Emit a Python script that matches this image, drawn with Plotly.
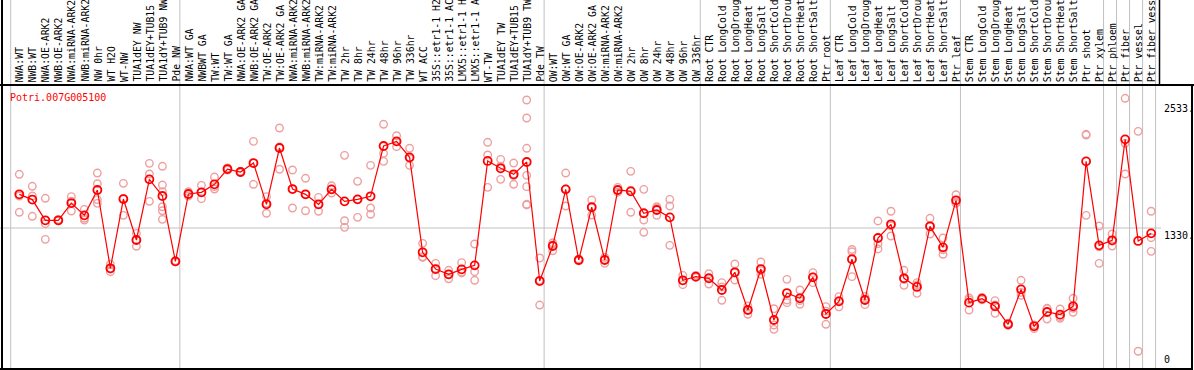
import plotly.graph_objects as go

W, H = 1194, 370

title_text = "Potri.007G005100"

labels = [
    "NWA:WT", "NWB:WT", "NWA:OE-ARK2", "NWB:OE-ARK2", "NWA:miRNA-ARK2", "NWB:miRNA-ARK2",
    "NW 0hr", "WT H2O", "WT-NW", "TUA1dEY NW", "TUA1dEY+TUB15", "TUA1dY+TUB9 NW", "Pde NW",
    "NWA:WT GA", "NWBWT GA", "TW:WT", "TW:WT GA", "NWA:OE-ARK2 GA", "NWB:OE-ARK2 GA",
    "TW:OE-ARK2", "TW:OE-ARK2 GA", "NWA:miRNA-ARK2", "NWB:miRNA-ARK2", "TW:miRNA-ARK2",
    "TW:miRNA-ARK2", "TW 2hr", "TW 8hr", "TW 24hr", "TW 48hr", "TW 96hr", "TW 336hr",
    "WT ACC", "35S::etr1-1 H2", "35S::etr1-1 AC", "LMX5::etr1-1 H", "LMX5::etr1-1 A",
    "WT-TW", "TUA1dEY TW", "TUA1dEY+TUB15", "TUA1dY+TUB9 TW", "Pde TW",
    "OW:WT", "OW:WT GA", "OW:OE-ARK2", "OW:OE-ARK2 GA", "OW:miRNA-ARK2", "OW:miRNA-ARK2",
    "OW 2hr", "OW 8hr", "OW 24hr", "OW 48hr", "OW 96hr", "OW 336hr",
    "Root CTR", "Root LongCold", "Root LongDroug", "Root LongHeat", "Root LongSalt",
    "Root ShortCold", "Root ShortDrou", "Root ShortHeat", "Root ShortSalt", "Ptr root",
    "Leaf CTR", "Leaf LongCold", "Leaf LongDroug", "Leaf LongHeat", "Leaf LongSalt",
    "Leaf ShortCold", "Leaf ShortDrou", "Leaf ShortHeat", "Leaf ShortSalt", "Ptr leaf",
    "Stem CTR", "Stem LongCold", "Stem LongDroug", "Stem LongHeat", "Stem LongSalt",
    "Stem ShortCold", "Stem ShortDrou", "Stem ShortHeat", "Stem ShortSalt", "Ptr shoot",
    "Ptr xylem", "Ptr phloem", "Ptr fiber", "Ptr vessel", "Ptr fiber vess",
]

means = [
    1650, 1600, 1403, 1403, 1567, 1450, 1691, 947, 1605, 1216, 1792, 1634, 1013,
    1653, 1669, 1745, 1890, 1862, 1947, 1555, 2090, 1700, 1650, 1555, 1697, 1583, 1602,
    1631, 2109, 2153, 2001, 1099, 940, 890, 937, 975, 1967, 1897, 1840, 1957, 826,
    1159, 1697, 1026, 1527, 1026, 1691, 1678, 1470, 1501, 1431, 833, 868,
    852, 741, 909, 551, 940, 456, 712, 662, 861, 513,
    633, 1033, 646, 1235, 1365, 852, 770, 1346, 1146, 1593,
    621, 659, 586, 415, 747, 396, 532, 507, 586, 1963, 1165,
    1213, 2172, 1207, 1279,
]

replicates = [
    [1840, 1634, 1479], [1726, 1634, 1441], [1612, 1371, 1222], [1410, 1400, 1398],
    [1628, 1585, 1491], [1507, 1422, 1406], [1852, 1751, 1600, 1564], [985, 940, 915],
    [1754, 1610, 1450], [1279, 1216, 1156], [1944, 1843, 1583],
    [1916, 1738, 1675, 1532, 1494, 1412], [1020, 1010, 1008],
    [1675, 1653, 1634], [1735, 1669, 1609], [1814, 1723, 1700], [1900, 1890, 1880],
    [1868, 1862, 1856], [2153, 1947, 1745], [1628, 1565, 1470], [2280, 2100, 1888],
    [1881, 1700, 1520], [1802, 1650, 1494], [1621, 1555, 1489], [1732, 1697, 1662],
    [2020, 1399, 1336], [1773, 1602, 1431], [1925, 1520, 1460], [2315, 2039, 1963],
    [2207, 2150, 2103], [2087, 1990, 1925], [1184, 1057, 1050], [994, 940, 877],
    [928, 890, 848], [1001, 910, 903], [1178, 915, 833], [2144, 2024, 1716],
    [1982, 1917, 1792], [1947, 1828, 1745], [2546, 2375, 2087, 1830, 1723, 1555, 1549],
    [1045, 835, 598],
    [1190, 1170, 1114], [1852, 1700, 1539], [1035, 1026, 1018], [1596, 1530, 1453],
    [1050, 1030, 994], [1716, 1690, 1670], [1868, 1690, 1479], [1697, 1406, 1289],
    [1532, 1520, 1450], [1602, 1539, 1165], [880, 830, 792], [880, 868, 860],
    [896, 860, 798], [811, 770, 643], [988, 905, 836], [590, 555, 510], [1007, 925, 890],
    [563, 408, 367], [842, 646, 621], [741, 640, 605], [906, 866, 811], [583, 540, 415],
    [678, 640, 581], [1126, 1105, 868], [680, 655, 602], [1397, 1181, 1131],
    [1489, 1350, 1254], [928, 843, 785], [811, 790, 709], [1422, 1343, 1273],
    [1235, 1123, 1080], [1646, 1569, 1564],
    [665, 647, 551], [670, 659, 648], [640, 598, 519], [425, 415, 405], [833, 718, 690],
    [410, 404, 374], [567, 564, 465], [561, 488, 472], [662, 567, 529], [2220, 2213, 1450],
    [1349, 1152, 994], [1273, 1207, 1159], [2562, 2134, 1843], [2248, 159],
    [1489, 1238, 1108],
]

group_bounds = [0, 13, 41, 53, 63, 73, 84, 85, 86, 87, 88]
y_tick_values = [2533, 1330, 0]
y_tick_texts = ["2533.", "1330.", "0"]

FONT = "DejaVu Sans Mono"
step = 13.01
x0_pix = 19.3
x_range = [-x0_pix / step, (W - x0_pix) / step]
plot_top_pix = 85
y_scale = 9.5  # value units per pixel
y_range = [(368 - 370) * y_scale, (368 - plot_top_pix) * y_scale]

def px(x):
    return x / W

def py(y):
    return 1 - y / H

fig = go.Figure()

rx, ry = [], []
for i, reps in enumerate(replicates):
    for v in reps:
        rx.append(i)
        ry.append(v)

fig.add_trace(go.Scatter(
    x=rx, y=ry, mode="markers",
    marker=dict(symbol="circle-open", size=7.5, color="#eea0a0", line=dict(width=1.4, color="#eea0a0")),
    hoverinfo="skip", showlegend=False,
))
fig.add_trace(go.Scatter(
    x=list(range(len(means))), y=means, mode="lines+markers",
    line=dict(color="#ff0000", width=1.2),
    marker=dict(symbol="circle-open", size=8, color="#ff0000", line=dict(width=1.8, color="#ff0000")),
    showlegend=False,
))

shapes = []
for k in group_bounds:
    xv = k - 0.66
    shapes.append(dict(type="line", xref="x", yref="paper", x0=xv, x1=xv, y0=py(369), y1=1,
                       line=dict(color="#c0c0c0", width=1), layer="below"))
shapes.append(dict(type="line", xref="paper", yref="y", x0=0, x1=px(1161), y0=1330, y1=1330,
                   line=dict(color="#c0c0c0", width=1), layer="below"))
# frame
shapes += [
    dict(type="line", xref="paper", yref="paper", x0=0, x1=1, y0=py(85), y1=py(85),
         line=dict(color="black", width=2)),
    dict(type="line", xref="paper", yref="paper", x0=0, x1=px(1193), y0=py(369), y1=py(369),
         line=dict(color="black", width=2)),
    dict(type="line", xref="paper", yref="paper", x0=px(2), x1=px(2), y0=py(370), y1=1,
         line=dict(color="black", width=2)),
    dict(type="line", xref="paper", yref="paper", x0=px(1192), x1=px(1192), y0=py(370), y1=py(85),
         line=dict(color="black", width=2)),
    dict(type="line", xref="paper", yref="paper", x0=px(1159.5), x1=px(1159.5), y0=py(85), y1=1,
         line=dict(color="black", width=1.5)),
]

annotations = []
for i, lab in enumerate(labels):
    annotations.append(dict(
        x=i + 0.05, xref="x", y=py(84), yref="paper", text=lab, showarrow=False,
        textangle=-90, xanchor="center", yanchor="bottom",
        font=dict(family=FONT, size=9.8, color="black"),
    ))
annotations.append(dict(
    x=px(8), xref="paper", y=py(90), yref="paper", text=title_text, showarrow=False,
    xanchor="left", yanchor="top", font=dict(family=FONT, size=10, color="#ff0000"),
))
for v, t in zip(y_tick_values, y_tick_texts):
    if v == 0:
        annotations.append(dict(x=px(1162), xref="paper", y=py(367), yref="paper", text=t,
                                showarrow=False, xanchor="left", yanchor="bottom",
                                font=dict(family=FONT, size=10, color="black")))
    else:
        annotations.append(dict(x=px(1162), xref="paper", y=v, yref="y", text=t,
                                showarrow=False, xanchor="left", yanchor="top",
                                font=dict(family=FONT, size=10, color="black")))

fig.update_layout(
    width=W, height=H, margin=dict(l=0, r=0, t=0, b=0),
    paper_bgcolor="white", plot_bgcolor="white",
    xaxis=dict(range=x_range, domain=[0, 1], showgrid=False, zeroline=False,
               showticklabels=False, ticks="", fixedrange=True),
    yaxis=dict(range=y_range, domain=[0, py(plot_top_pix)], showgrid=False, zeroline=False,
               showticklabels=False, ticks="", fixedrange=True),
    shapes=shapes, annotations=annotations, showlegend=False,
)

fig.write_html("out.html", config={"displayModeBar": False})

# remove the default page margin so the chart sits at the window's top-left corner
with open("out.html", "r", encoding="utf-8") as f:
    html = f.read()
html = html.replace("<head>", "<head><style>html,body{margin:0;padding:0;overflow:hidden;}</style>", 1)
with open("out.html", "w", encoding="utf-8") as f:
    f.write(html)
